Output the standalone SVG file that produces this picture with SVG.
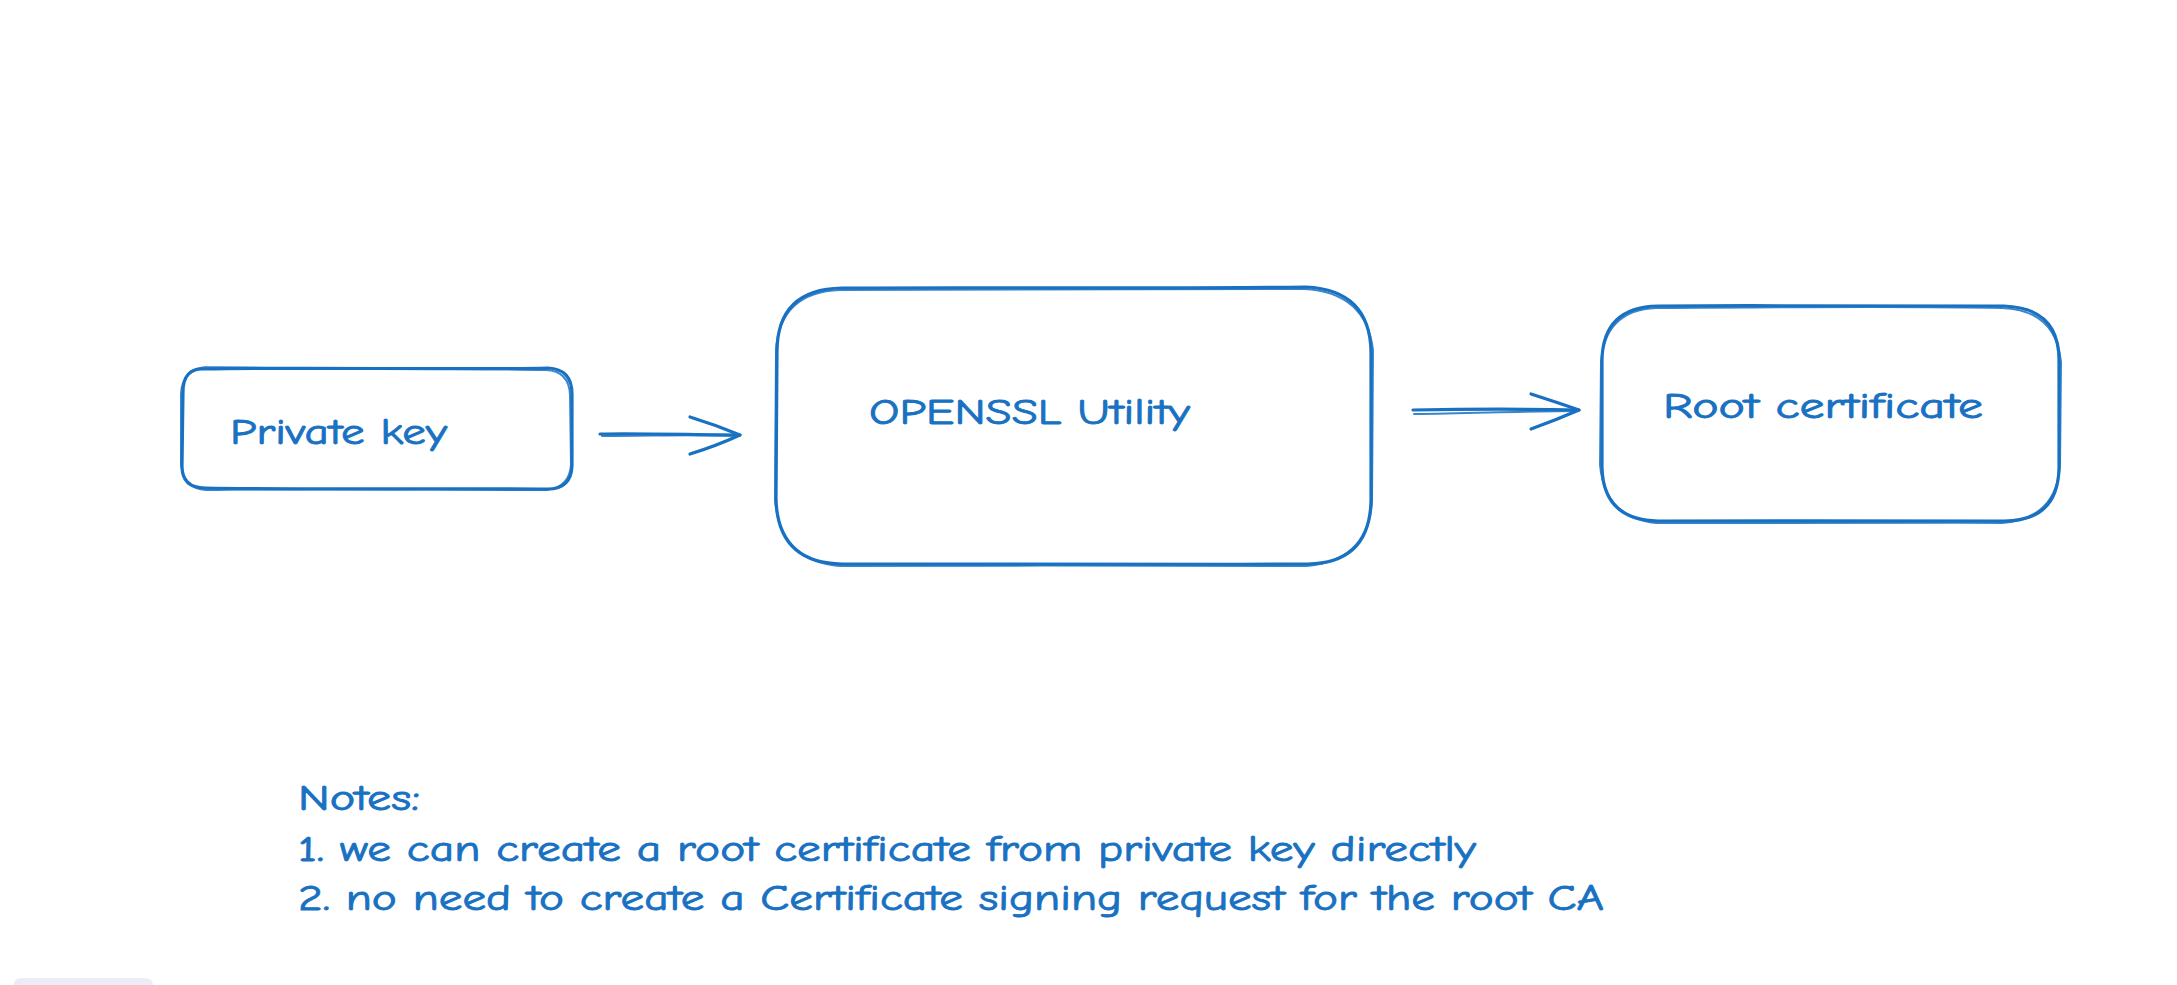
<svg xmlns="http://www.w3.org/2000/svg" width="2177" height="985" viewBox="0 0 2177 985">
<style>
.s{fill:none;stroke:#1971c2;stroke-width:3.2;stroke-linecap:round;stroke-linejoin:round}
.s2{fill:none;stroke:#1971c2;stroke-width:2;stroke-linecap:round;stroke-linejoin:round;opacity:.85}
.t{font-family:"Comic Neue","Liberation Sans","Noto Sans",sans-serif;fill:#1971c2;stroke:#1971c2;stroke-width:0.9;font-size:37px}
</style>
<rect width="2177" height="985" fill="#ffffff"/>
<g id="private-key">
<path class="s" d="M204,369 C300,367 460,370 548,368 Q572,369 572,394 L572,466 Q571,489 548,489 C440,488 300,490 205,488 Q182,488 182,466 L183,392 Q183,368 204,369 Z"/>
<path class="s2" d="M206,367 C320,369 450,368 546,370 Q569,371 570,395 L571,464 Q570,487 547,490 C430,490 310,488 206,490 Q184,489 181,465 L181,394 Q182,370 206,367"/>
<text class="t" x="230" y="444" textLength="217" lengthAdjust="spacingAndGlyphs">Private key</text>
</g>
<g id="openssl">
<path class="s" d="M842,288 C1000,287 1180,289 1306,287 Q1370,290 1371,352 L1371,500 Q1370,563 1308,564 C1150,565 990,563 842,564 Q777,563 776,498 L777,352 Q777,289 842,288 Z"/>
<path class="s2" d="M840,290 C1010,289 1170,290 1304,289 Q1366,292 1373,350 L1372,502 Q1368,561 1306,566 C1140,566 1000,565 840,566 Q780,561 775,500 L776,350 Q780,292 840,290"/>
<text class="t" x="869" y="424" textLength="321" lengthAdjust="spacingAndGlyphs">OPENSSL Utility</text>
</g>
<g id="root-cert">
<path class="s" d="M1658,306 C1780,305 1920,307 2004,306 Q2059,308 2059,360 L2059,468 Q2058,521 2004,521 C1900,522 1770,520 1658,521 Q1603,520 1602,467 L1602,360 Q1603,307 1658,306 Z"/>
<path class="s2" d="M1656,308 C1790,307 1910,306 2002,308 Q2056,310 2061,362 L2060,466 Q2056,519 2002,523 C1890,522 1780,523 1656,523 Q1605,518 1600,465 L1601,362 Q1605,310 1656,308"/>
<text class="t" x="1663" y="418" textLength="320" lengthAdjust="spacingAndGlyphs">Root certificate</text>
</g>
<g id="notes">
<text class="t" x="298" y="810" textLength="122" lengthAdjust="spacingAndGlyphs">Notes:</text>
<text class="t" x="298" y="861" textLength="1178" lengthAdjust="spacingAndGlyphs">1. we can create a root certificate from private key directly</text>
<text class="t" x="298" y="910" textLength="1306" lengthAdjust="spacingAndGlyphs">2. no need to create a Certificate signing request for the root CA</text>
</g>
<g id="connectors">
<path class="s" d="M600,434 C640,433 700,435 740,435"/>
<path class="s2" d="M602,436 C650,436 700,434 738,436"/>
<path class="s" d="M690,417 Q716,425 740,435 Q716,446 690,454"/>
<path class="s" d="M1413,410 C1470,409 1530,409 1579,410"/>
<path class="s2" d="M1414,414 C1480,413 1530,411 1578,411"/>
<path class="s" d="M1531,394 Q1556,402 1579,410 Q1556,420 1531,429"/>
</g>
<path d="M14,985 L14,984 Q14,978 22,978 L143,978 Q153,978 153,985 Z" fill="#ececf4"/>
</svg>
